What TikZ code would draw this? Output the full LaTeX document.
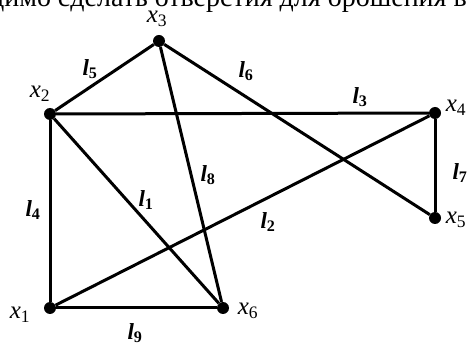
\documentclass[tikz,border=0pt]{standalone}
\usepackage{fontspec}
\setmainfont{Liberation Serif}
\usetikzlibrary{positioning}

\newcommand{\xname}[1]{\textit{x}\textsubscript{#1}}
\newcommand{\lname}[1]{\textbf{\textit{l}\textsubscript{#1}}}

\begin{document}
\begin{tikzpicture}[x=1pt,y=1pt,
    vertex/.style={circle, fill=black, inner sep=0pt, minimum size=12pt},
    edge/.style={line width=3pt},
    xlab/.style={font=\fontsize{25}{25}\selectfont, inner sep=0pt},
    llab/.style={font=\fontsize{23}{23}\selectfont, inner sep=0pt}]

\useasboundingbox (0,0) rectangle (469,343);

% cut-off line of text above the figure
\begin{scope}
\clip (0,0) rectangle (469,343);
\node[anchor=base east, inner sep=0pt, font=\fontsize{28}{28}\selectfont]
    (caption) at (467,336) {необходимо сделать отверстия для орошения в};
\end{scope}

% Vertices
\node[vertex] (x1) at (50,35) {};
\node[vertex] (x2) at (50,229) {};
\node[vertex] (x3) at (159,302) {};
\node[vertex] (x4) at (435,230) {};
\node[vertex] (x5) at (435,125) {};
\node[vertex] (x6) at (223,35) {};

% Edges
\draw[edge] (x2) -- (x3);
\draw[edge] (x3) -- (x5);
\draw[edge] (x2) -- (x4);
\draw[edge] (x4) -- (x5);
\draw[edge] (x2) -- (x1);
\draw[edge] (x2) -- (x6);
\draw[edge] (x3) -- (x6);
\draw[edge] (x1) -- (x4);
\draw[edge] (x1) -- (x6);

% Vertex labels
\node[xlab] (lx1) at (20,28) {\xname{1}};
\node[xlab] (lx2) at (40,249) {\xname{2}};
\node[xlab] (lx3) at (157,324) {\xname{3}};
\node[xlab] (lx4) at (456,235) {\xname{4}};
\node[xlab] (lx5) at (456,123) {\xname{5}};
\node[xlab] (lx6) at (248,32) {\xname{6}};

% Edge labels
\node[llab] (l1) at (146,143) {\lname{1}};
\node[llab] (l2) at (268,121) {\lname{2}};
\node[llab] (l3) at (360,246) {\lname{3}};
\node[llab] (l4) at (33,133) {\lname{4}};
\node[llab] (l5) at (90,274) {\lname{5}};
\node[llab] (l6) at (246,272) {\lname{6}};
\node[llab] (l7) at (460,170) {\lname{7}};
\node[llab] (l8) at (208,168) {\lname{8}};
\node[llab] (l9) at (135,10) {\lname{9}};

\end{tikzpicture}
\end{document}
